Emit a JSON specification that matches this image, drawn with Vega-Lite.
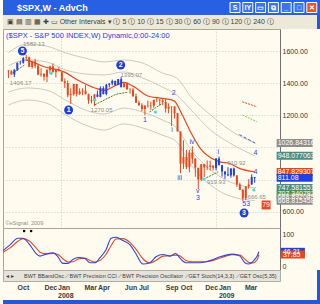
{
"$schema": "https://vega.github.io/schema/vega-lite/v6.json",
"padding": 0,
"background": "#fffcef",
"spacing": 0,
"bounds": "flush",
"resolve": {"scale": {"color": "independent", "strokeDash": "independent"}},
"config": {
  "view": {"stroke": null},
  "axis": {"labelFont": "Liberation Sans", "labelFontSize": 7, "labelColor": "#333333", "domainColor": "#707070", "ticks": false, "title": null, "grid": false, "labelPadding": 2},
  "title": {"font": "Liberation Sans"},
  "text": {"font": "Liberation Sans"}
},
"datasets": {
  "btn": [{"b":"a","g":"S","c":"n"},{"b":"b","g":"IY","c":"n"},{"b":"c","g":"▭","c":"n"},{"b":"d","g":"⧉","c":"n"},{"b":"e","g":"_","c":"n"},{"b":"f","g":"□","c":"n"},{"b":"g","g":"✕","c":"x"}],
  "bars": [
    {"date":"2007-08-31","o":1479,"h":1481,"l":1432,"c":1474,"t":"d"},
    {"date":"2007-09-07","o":1474,"h":1481,"l":1453,"c":1454,"t":"d"},
    {"date":"2007-09-14","o":1454,"h":1485,"l":1438,"c":1484,"t":"u"},
    {"date":"2007-09-21","o":1484,"h":1530,"l":1476,"c":1525,"t":"u"},
    {"date":"2007-09-28","o":1525,"h":1539,"l":1515,"c":1527,"t":"u"},
    {"date":"2007-10-05","o":1527,"h":1561,"l":1521,"c":1557,"t":"u"},
    {"date":"2007-10-12","o":1557,"h":1576,"l":1546,"c":1561,"t":"d"},
    {"date":"2007-10-19","o":1561,"h":1565,"l":1500,"c":1501,"t":"d"},
    {"date":"2007-10-26","o":1501,"h":1535,"l":1490,"c":1535,"t":"d"},
    {"date":"2007-11-02","o":1535,"h":1552,"l":1492,"c":1509,"t":"d"},
    {"date":"2007-11-09","o":1509,"h":1520,"l":1450,"c":1453,"t":"d"},
    {"date":"2007-11-16","o":1453,"h":1493,"l":1439,"c":1458,"t":"d"},
    {"date":"2007-11-23","o":1458,"h":1462,"l":1416,"c":1440,"t":"d"},
    {"date":"2007-11-30","o":1440,"h":1488,"l":1406,"c":1481,"t":"d"},
    {"date":"2007-12-07","o":1481,"h":1508,"l":1460,"c":1504,"t":"d"},
    {"date":"2007-12-14","o":1504,"h":1523,"l":1467,"c":1468,"t":"d"},
    {"date":"2007-12-21","o":1468,"h":1485,"l":1435,"c":1484,"t":"d"},
    {"date":"2007-12-28","o":1484,"h":1499,"l":1472,"c":1478,"t":"d"},
    {"date":"2008-01-04","o":1468,"h":1472,"l":1411,"c":1411,"t":"d"},
    {"date":"2008-01-11","o":1411,"h":1429,"l":1370,"c":1401,"t":"d"},
    {"date":"2008-01-18","o":1401,"h":1417,"l":1312,"c":1325,"t":"d"},
    {"date":"2008-01-25","o":1325,"h":1368,"l":1270,"c":1331,"t":"d"},
    {"date":"2008-02-01","o":1331,"h":1396,"l":1322,"c":1395,"t":"d"},
    {"date":"2008-02-08","o":1395,"h":1396,"l":1317,"c":1331,"t":"d"},
    {"date":"2008-02-15","o":1331,"h":1368,"l":1327,"c":1349,"t":"d"},
    {"date":"2008-02-22","o":1349,"h":1368,"l":1325,"c":1353,"t":"d"},
    {"date":"2008-02-29","o":1353,"h":1388,"l":1330,"c":1331,"t":"d"},
    {"date":"2008-03-07","o":1331,"h":1335,"l":1272,"c":1294,"t":"d"},
    {"date":"2008-03-14","o":1294,"h":1321,"l":1274,"c":1288,"t":"d"},
    {"date":"2008-03-21","o":1288,"h":1331,"l":1257,"c":1330,"t":"d"},
    {"date":"2008-03-28","o":1330,"h":1354,"l":1312,"c":1315,"t":"u"},
    {"date":"2008-04-04","o":1315,"h":1380,"l":1312,"c":1370,"t":"u"},
    {"date":"2008-04-11","o":1370,"h":1381,"l":1330,"c":1332,"t":"u"},
    {"date":"2008-04-18","o":1332,"h":1395,"l":1324,"c":1390,"t":"u"},
    {"date":"2008-04-25","o":1390,"h":1399,"l":1373,"c":1398,"t":"u"},
    {"date":"2008-05-02","o":1398,"h":1422,"l":1386,"c":1414,"t":"u"},
    {"date":"2008-05-09","o":1414,"h":1415,"l":1383,"c":1388,"t":"u"},
    {"date":"2008-05-16","o":1388,"h":1426,"l":1388,"c":1425,"t":"u"},
    {"date":"2008-05-23","o":1425,"h":1440,"l":1373,"c":1375,"t":"u"},
    {"date":"2008-05-30","o":1375,"h":1406,"l":1373,"c":1400,"t":"d"},
    {"date":"2008-06-06","o":1400,"h":1404,"l":1360,"c":1361,"t":"d"},
    {"date":"2008-06-13","o":1361,"h":1370,"l":1335,"c":1360,"t":"d"},
    {"date":"2008-06-20","o":1360,"h":1370,"l":1316,"c":1318,"t":"d"},
    {"date":"2008-06-27","o":1318,"h":1336,"l":1278,"c":1278,"t":"d"},
    {"date":"2008-07-04","o":1278,"h":1291,"l":1260,"c":1262,"t":"d"},
    {"date":"2008-07-11","o":1262,"h":1275,"l":1225,"c":1239,"t":"d"},
    {"date":"2008-07-18","o":1239,"h":1262,"l":1200,"c":1260,"t":"d"},
    {"date":"2008-07-25","o":1260,"h":1292,"l":1248,"c":1257,"t":"d"},
    {"date":"2008-08-01","o":1257,"h":1285,"l":1234,"c":1260,"t":"d"},
    {"date":"2008-08-08","o":1260,"h":1297,"l":1247,"c":1296,"t":"d"},
    {"date":"2008-08-15","o":1296,"h":1314,"l":1283,"c":1298,"t":"d"},
    {"date":"2008-08-22","o":1298,"h":1300,"l":1261,"c":1292,"t":"d"},
    {"date":"2008-08-29","o":1292,"h":1303,"l":1263,"c":1283,"t":"d"},
    {"date":"2008-09-05","o":1283,"h":1303,"l":1217,"c":1242,"t":"d"},
    {"date":"2008-09-12","o":1242,"h":1274,"l":1212,"c":1252,"t":"d"},
    {"date":"2008-09-19","o":1252,"h":1256,"l":1133,"c":1255,"t":"d"},
    {"date":"2008-09-26","o":1255,"h":1255,"l":1180,"c":1213,"t":"d"},
    {"date":"2008-10-03","o":1213,"h":1215,"l":1099,"c":1099,"t":"d"},
    {"date":"2008-10-10","o":1099,"h":1099,"l":840,"c":899,"t":"d"},
    {"date":"2008-10-17","o":899,"h":1044,"l":866,"c":940,"t":"d"},
    {"date":"2008-10-24","o":940,"h":985,"l":865,"c":877,"t":"d"},
    {"date":"2008-10-31","o":877,"h":985,"l":845,"c":968,"t":"d"},
    {"date":"2008-11-07","o":968,"h":1007,"l":899,"c":930,"t":"d"},
    {"date":"2008-11-14","o":930,"h":934,"l":818,"c":873,"t":"d"},
    {"date":"2008-11-21","o":873,"h":873,"l":741,"c":800,"t":"d"},
    {"date":"2008-11-28","o":800,"h":896,"l":790,"c":896,"t":"d"},
    {"date":"2008-12-05","o":896,"h":896,"l":815,"c":876,"t":"d"},
    {"date":"2008-12-12","o":876,"h":919,"l":860,"c":879,"t":"d"},
    {"date":"2008-12-19","o":879,"h":918,"l":857,"c":887,"t":"d"},
    {"date":"2008-12-26","o":887,"h":888,"l":857,"c":873,"t":"d"},
    {"date":"2009-01-02","o":873,"h":934,"l":857,"c":931,"t":"u"},
    {"date":"2009-01-09","o":931,"h":943,"l":888,"c":890,"t":"u"},
    {"date":"2009-01-16","o":890,"h":891,"l":818,"c":850,"t":"u"},
    {"date":"2009-01-23","o":850,"h":852,"l":804,"c":832,"t":"u"},
    {"date":"2009-01-30","o":832,"h":877,"l":821,"c":826,"t":"u"},
    {"date":"2009-02-06","o":826,"h":870,"l":812,"c":869,"t":"u"},
    {"date":"2009-02-13","o":869,"h":875,"l":818,"c":826,"t":"u"},
    {"date":"2009-02-20","o":826,"h":827,"l":754,"c":770,"t":"d"},
    {"date":"2009-02-27","o":770,"h":780,"l":735,"c":735,"t":"d"},
    {"date":"2009-03-06","o":735,"h":741,"l":667,"c":683,"t":"d"},
    {"date":"2009-03-13","o":683,"h":758,"l":672,"c":757,"t":"d"},
    {"date":"2009-03-20","o":757,"h":803,"l":743,"c":769,"t":"d"},
    {"date":"2009-03-27","o":769,"h":833,"l":768,"c":816,"t":"u"},
    {"date":"2009-04-03","o":816,"h":816,"l":780,"c":811,"t":"u"}
  ],
  "bands": [
    {"date":"2007-08-31","b":"u2","p":1590},{"date":"2007-10-14","b":"u2","p":1644},{"date":"2007-11-29","b":"u2","p":1631},{"date":"2008-01-13","b":"u2","p":1588},{"date":"2008-02-28","b":"u2","p":1556},{"date":"2008-04-13","b":"u2","p":1532},{"date":"2008-05-29","b":"u2","p":1544},{"date":"2008-07-13","b":"u2","p":1525},{"date":"2008-08-28","b":"u2","p":1463},{"date":"2008-10-01","b":"u2","p":1432},{"date":"2008-11-04","b":"u2","p":1314},{"date":"2008-12-20","b":"u2","p":1202},{"date":"2009-02-03","b":"u2","p":1109},{"date":"2009-04-03","b":"u2","p":1027},
    {"date":"2007-08-31","b":"u1","p":1510},{"date":"2007-10-14","b":"u1","p":1544},{"date":"2007-11-29","b":"u1","p":1532},{"date":"2008-01-13","b":"u1","p":1482},{"date":"2008-02-28","b":"u1","p":1457},{"date":"2008-04-13","b":"u1","p":1451},{"date":"2008-05-29","b":"u1","p":1470},{"date":"2008-07-13","b":"u1","p":1432},{"date":"2008-08-28","b":"u1","p":1376},{"date":"2008-10-01","b":"u1","p":1326},{"date":"2008-11-04","b":"u1","p":1233},{"date":"2008-12-20","b":"u1","p":1108},{"date":"2009-02-03","b":"u1","p":1028},{"date":"2009-04-03","b":"u1","p":948},
    {"date":"2007-08-31","b":"l1","p":1345},{"date":"2007-10-14","b":"l1","p":1370},{"date":"2007-11-29","b":"l1","p":1357},{"date":"2008-01-13","b":"l1","p":1295},{"date":"2008-02-28","b":"l1","p":1233},{"date":"2008-04-13","b":"l1","p":1208},{"date":"2008-05-29","b":"l1","p":1245},{"date":"2008-07-13","b":"l1","p":1220},{"date":"2008-08-28","b":"l1","p":1171},{"date":"2008-10-01","b":"l1","p":1121},{"date":"2008-11-04","b":"l1","p":984},{"date":"2008-12-20","b":"l1","p":860},{"date":"2009-02-03","b":"l1","p":786},{"date":"2009-04-03","b":"l1","p":748},
    {"date":"2007-08-31","b":"l2","p":1264},{"date":"2007-10-14","b":"l2","p":1295},{"date":"2007-11-29","b":"l2","p":1276},{"date":"2008-01-13","b":"l2","p":1202},{"date":"2008-02-28","b":"l2","p":1140},{"date":"2008-04-13","b":"l2","p":1108},{"date":"2008-05-29","b":"l2","p":1146},{"date":"2008-07-13","b":"l2","p":1121},{"date":"2008-08-28","b":"l2","p":1077},{"date":"2008-10-01","b":"l2","p":1034},{"date":"2008-11-04","b":"l2","p":891},{"date":"2008-12-20","b":"l2","p":766},{"date":"2009-02-03","b":"l2","p":698},{"date":"2009-04-03","b":"l2","p":669}
  ],
  "ma": [
    {"date":"2007-10-10","p":1545},{"date":"2007-10-19","p":1540},{"date":"2007-11-20","p":1505},{"date":"2008-01-09","p":1470},{"date":"2008-02-17","p":1410},{"date":"2008-03-22","p":1370},{"date":"2008-04-13","p":1355},{"date":"2008-05-10","p":1385},{"date":"2008-05-29","p":1405},{"date":"2008-06-21","p":1380},{"date":"2008-07-25","p":1320},{"date":"2008-08-28","p":1305},{"date":"2008-09-25","p":1290},{"date":"2008-10-12","p":1214},{"date":"2008-11-04","p":1090},{"date":"2008-11-27","p":990},{"date":"2008-12-20","p":935},{"date":"2009-01-11","p":910},{"date":"2009-02-03","p":900},{"date":"2009-02-26","p":870},{"date":"2009-04-03","p":848}
  ],
  "seg": [
    {"s":"s1","k":"g","date":"2007-09-10","p":1463},{"s":"s1","k":"g","date":"2007-10-08","p":1513},
    {"s":"s2","k":"g","date":"2008-03-22","p":1265},{"s":"s2","k":"g","date":"2008-04-13","p":1295},{"s":"s2","k":"g","date":"2008-05-10","p":1330},{"s":"s2","k":"g","date":"2008-06-09","p":1345},
    {"s":"s3","k":"g","date":"2008-07-29","p":1220},{"s":"s3","k":"g","date":"2008-08-28","p":1275},
    {"s":"s4","k":"g","date":"2008-12-04","p":803},{"s":"s4","k":"g","date":"2009-01-07","p":848},
    {"s":"s5","k":"lg","date":"2009-03-05","p":1202},{"s":"s5","k":"lg","date":"2009-04-08","p":1160},
    {"s":"s6","k":"r","date":"2009-03-05","p":1284},{"s":"s6","k":"r","date":"2009-04-08","p":1253},
    {"s":"s7","k":"b","date":"2009-02-26","p":1080},{"s":"s7","k":"b","date":"2009-04-05","p":1026},
    {"s":"s8","k":"g","date":"2009-03-30","p":735},{"s":"s8","k":"g","date":"2009-04-05","p":752}
  ],
  "cy": [{"date":"2007-12-10","p":1461},{"date":"2008-03-22","p":1295},{"date":"2008-08-12","p":1220},{"date":"2008-12-04","p":803},{"date":"2009-04-01","p":735}],
  "wl": [
    {"date":"2008-07-18","p":1171,"t":"1"},{"date":"2008-09-24","p":1339,"t":"2"},{"date":"2008-09-20","p":1108,"t":"i"},{"date":"2008-10-08","p":810,"t":"iii"},{"date":"2008-11-06","p":1034,"t":"iv"},{"date":"2008-11-20","p":729,"t":"v"},{"date":"2008-11-20","p":685,"t":"3"},{"date":"2009-01-07","p":972,"t":"i"},{"date":"2009-03-14","p":648,"t":"53"},{"date":"2009-04-05","p":965,"t":"4"},{"date":"2009-04-05","p":847,"t":"4"}
  ],
  "gl": [
    {"date":"2007-10-30","p":1644,"t":"1582.13"},{"date":"2007-09-29","p":1401,"t":"1406.17"},{"date":"2008-06-16","p":1451,"t":"1395.07"},{"date":"2008-04-07","p":1233,"t":"1270.05"},{"date":"2009-02-19","p":903,"t":"910.92"},{"date":"2009-01-02","p":785,"t":"919.93"},{"date":"2009-04-08","p":691,"t":"666.65"}
  ],
  "cn": [{"date":"2007-10-03","p":1600,"t":"5"},{"date":"2008-01-20","p":1233,"t":"1"},{"date":"2008-05-22","p":1513,"t":"2"},{"date":"2009-03-09","p":592,"t":"3"}],
  "box79": [{"date":"2009-04-30","p":642,"t":"79"}],
  "rl": [
    {"date":"2009-04-03","p":1026.84316,"t":"1026.84316","c":"grey"},{"date":"2009-04-03","p":948.077063,"t":"948.077063","c":"teal"},{"date":"2009-04-03","p":847.829307,"t":"847.829307","c":"red"},{"date":"2009-04-03","p":747.581551,"t":"747.581551","c":"teal"},{"date":"2009-04-03","p":707.3,"t":"707.340782","c":"green"},{"date":"2009-04-03","p":690.5,"t":"688.892049","c":"grey"},{"date":"2009-04-03","p":668.815458,"t":"668.815458","c":"grey"},{"date":"2009-04-03","p":811.08,"t":"811.08","c":"blue"}
  ],
  "osc": [
    {"date":"2007-08-30","k":49.5,"d":45},{"date":"2007-09-15","k":67,"d":58},{"date":"2007-10-03","k":87,"d":78},{"date":"2007-10-14","k":87,"d":86},{"date":"2007-10-30","k":67,"d":78},{"date":"2007-11-13","k":41,"d":58},{"date":"2007-11-22","k":33,"d":45},{"date":"2007-12-06","k":39,"d":40},{"date":"2007-12-22","k":43,"d":41},{"date":"2008-01-02","k":31,"d":38},{"date":"2008-01-13","k":11,"d":25},{"date":"2008-01-25","k":11,"d":15},{"date":"2008-02-05","k":23,"d":16},{"date":"2008-02-17","k":29,"d":24},{"date":"2008-03-03","k":26,"d":27},{"date":"2008-03-15","k":13,"d":20},{"date":"2008-03-26","k":13,"d":15},{"date":"2008-04-07","k":29,"d":20},{"date":"2008-04-20","k":51.5,"d":38},{"date":"2008-05-02","k":87,"d":65},{"date":"2008-05-13","k":90,"d":85},{"date":"2008-05-29","k":80,"d":86},{"date":"2008-06-14","k":67,"d":74},{"date":"2008-06-27","k":41,"d":55},{"date":"2008-07-13","k":9,"d":25},{"date":"2008-07-29","k":13,"d":12},{"date":"2008-08-12","k":31,"d":20},{"date":"2008-08-28","k":38,"d":33},{"date":"2008-09-13","k":33,"d":34},{"date":"2008-09-26","k":41,"d":36},{"date":"2008-10-06","k":26,"d":33},{"date":"2008-10-19","k":13,"d":20},{"date":"2008-11-04","k":13,"d":16},{"date":"2008-11-20","k":13,"d":16},{"date":"2008-12-04","k":16,"d":16},{"date":"2008-12-20","k":23,"d":20},{"date":"2009-01-05","k":31,"d":27},{"date":"2009-01-18","k":36,"d":33},{"date":"2009-02-03","k":39,"d":37},{"date":"2009-02-19","k":33,"d":36},{"date":"2009-03-02","k":13,"d":24},{"date":"2009-03-11","k":9,"d":14},{"date":"2009-03-20","k":16,"d":12},{"date":"2009-03-30","k":33,"d":22},{"date":"2009-04-03","k":46,"d":37.85}
  ],
  "lev": [{"v":75},{"v":25}],
  "od": [{"date":"2007-10-17","v":109},{"date":"2007-11-02","v":109}],
  "ol": [{"date":"2009-04-03","v":46,"t":"46.21","c":"blue"},{"date":"2009-04-03","v":37.85,"t":"37.85","c":"red"}],
  "one": [{"x":"0"}]
},
"vconcat": [
  {"width": 320, "height": 15, "view": {"fill": "#2760e2", "stroke": null},
   "layer": [
     {"data": {"values": [{"t": "$SPX,W - AdvCh"}]},
      "mark": {"type": "text", "align": "left", "dx": 14, "fontSize": 9, "fontWeight": "bold", "color": "#ffffff"},
      "encoding": {"x": {"field": "t", "type": "nominal", "scale": {"padding": 0, "align": 0}, "axis": null}, "text": {"field": "t"}}},
     {"data": {"name": "btn"},
      "mark": {"type": "point", "shape": "square", "size": 100, "filled": true, "stroke": "#ffffff", "strokeWidth": 1, "opacity": 1},
      "encoding": {"x": {"field": "b", "type": "nominal", "scale": {"domain": ["_0","_1","_2","_3","_4","_5","_6","_7","_8","_9","_10","_11","_12","_13","_14","_15","_16","a","b","c","d","e","f","g"], "padding": 1, "align": 0.5625}, "axis": null},
        "color": {"field": "c", "type": "nominal", "scale": {"domain": ["n", "x"], "range": ["#3a74ee", "#e0582c"]}, "legend": null}}},
     {"data": {"name": "btn"},
      "mark": {"type": "text", "color": "#ffffff", "fontSize": 7, "fontWeight": "bold"},
      "encoding": {"x": {"field": "b", "type": "nominal", "scale": {"domain": ["_0","_1","_2","_3","_4","_5","_6","_7","_8","_9","_10","_11","_12","_13","_14","_15","_16","a","b","c","d","e","f","g"], "padding": 1, "align": 0.5625}, "axis": null}, "text": {"field": "g"}}}
   ],
   "resolve": {"scale": {"x": "independent"}}},
  {"width": 314, "height": 14, "view": {"fill": "#ece9d8", "stroke": null},
   "layer": [
     {"data": {"values": [{"t": "▣  ▤  ▥  ▦   ✚   ▭       Other Intervals ▾   Ⓘ 5   Ⓘ 10   Ⓘ 15   Ⓘ 30   Ⓘ 60   Ⓘ 90   Ⓘ 120   Ⓘ 240   Ⓘ"}]},
      "mark": {"type": "text", "align": "left", "dx": 4, "fontSize": 7, "color": "#404040"},
      "encoding": {"x": {"field": "t", "type": "nominal", "scale": {"padding": 0, "align": 0}, "axis": null}, "text": {"field": "t"}}},
     {"data": {"name": "one"}, "mark": {"type": "rect", "x2Offset": 6, "color": "#2458d8", "clip": false},
      "encoding": {"x": {"datum": 1, "type": "quantitative", "scale": {"domain": [0, 1]}, "axis": null}, "x2": {"datum": 1}}}
   ],
   "resolve": {"scale": {"x": "independent"}}},
  {"width": 277, "height": 199, "view": {"fill": "#fffcef", "stroke": "#a8a898"},
   "title": {"text": "($SPX - S&P 500 INDEX,W) Dynamic,0:00-24:00", "anchor": "start", "frame": "group", "offset": -10, "dx": 3, "fontSize": 7.5, "fontWeight": "normal", "color": "#2a3ad8"},
   "encoding": {
     "x": {"field": "date", "type": "temporal",
           "scale": {"type": "utc", "domain": [{"year": 2007, "month": 8, "date": 30, "utc": true}, {"year": 2009, "month": 5, "date": 21, "utc": true}]},
           "axis": {"orient": "bottom", "values": [{"year": 2008, "month": 1, "date": 1, "utc": true}, {"year": 2009, "month": 1, "date": 1, "utc": true}], "grid": true, "gridColor": "#c8c8c8", "gridDash": [1, 2], "labels": false, "domain": false, "title": "©eSignal, 2009", "titleAnchor": "start", "titleAlign": "left", "titleX": 2, "titlePadding": -8, "titleFontSize": 5.5, "titleColor": "#8a8a8a", "titleFontWeight": "normal", "titleFont": "Liberation Sans"}},
     "y": {"field": "p", "type": "quantitative", "scale": {"domain": [498.6, 1737], "nice": false, "zero": false},
           "axis": {"orient": "right", "values": [600, 800, 1000, 1200, 1400, 1600], "labelExpr": "datum.value == 800 || datum.value == 1000 ? '' : format(datum.value, '.2f')", "labelOverlap": false, "grid": true, "gridColor": "#c8c8c8", "gridDash": [1, 2]}}
   },
   "layer": [
     {"data": {"name": "bands"}, "mark": {"type": "line", "color": "#bdbdb4", "strokeWidth": 0.8, "interpolate": "monotone", "clip": true}, "encoding": {"detail": {"field": "b"}}},
     {"data": {"name": "ma"}, "mark": {"type": "line", "color": "#e8461c", "strokeWidth": 1.2, "interpolate": "monotone", "clip": true}},
     {"data": {"name": "seg"}, "mark": {"type": "line", "strokeWidth": 1, "clip": true},
      "encoding": {"detail": {"field": "s"},
        "color": {"field": "k", "type": "nominal", "scale": {"domain": ["u","d","g","lg","r","b","grey","teal","red","green","blue"], "range": ["#2340e0","#e8461c","#3f7f2a","#66dd33","#e8461c","#3f5fe0","#8e8e8e","#4a8c84","#e8441e","#3a9c38","#2040e0"]}, "legend": null},
        "strokeDash": {"field": "k", "type": "nominal", "scale": {"domain": ["g", "lg", "r", "b"], "range": [[2, 1], [2, 1], [2, 1], [3, 2]]}, "legend": null}}},
     {"data": {"name": "bars"}, "mark": {"type": "rule", "strokeWidth": 1},
      "encoding": {"y": {"field": "l", "type": "quantitative", "scale": {"domain": [498.6, 1737], "nice": false, "zero": false},
           "axis": {"orient": "right", "values": [600, 800, 1000, 1200, 1400, 1600], "labelExpr": "datum.value == 800 || datum.value == 1000 ? '' : format(datum.value, '.2f')", "labelOverlap": false, "grid": true, "gridColor": "#c8c8c8", "gridDash": [1, 2]}},
        "y2": {"field": "h"},
        "color": {"field": "t", "type": "nominal", "scale": {"domain": ["u","d","g","lg","r","b","grey","teal","red","green","blue"], "range": ["#2340e0","#e8461c","#3f7f2a","#66dd33","#e8461c","#3f5fe0","#8e8e8e","#4a8c84","#e8441e","#3a9c38","#2040e0"]}, "legend": null}}},
     {"data": {"name": "bars"}, "mark": {"type": "bar", "width": 2},
      "encoding": {"y": {"field": "o", "type": "quantitative", "scale": {"domain": [498.6, 1737], "nice": false, "zero": false},
           "axis": {"orient": "right", "values": [600, 800, 1000, 1200, 1400, 1600], "labelExpr": "datum.value == 800 || datum.value == 1000 ? '' : format(datum.value, '.2f')", "labelOverlap": false, "grid": true, "gridColor": "#c8c8c8", "gridDash": [1, 2]}},
        "y2": {"field": "c"},
        "color": {"field": "t", "type": "nominal", "scale": {"domain": ["u","d","g","lg","r","b","grey","teal","red","green","blue"], "range": ["#2340e0","#e8461c","#3f7f2a","#66dd33","#e8461c","#3f5fe0","#8e8e8e","#4a8c84","#e8441e","#3a9c38","#2040e0"]}, "legend": null}}},
     {"data": {"name": "cy"}, "mark": {"type": "point", "filled": true, "size": 10, "color": "#40e0e0", "opacity": 1}},
     {"data": {"name": "gl"}, "mark": {"type": "text", "fontSize": 6, "color": "#8c8c8c"}, "encoding": {"text": {"field": "t"}}},
     {"data": {"name": "wl"}, "mark": {"type": "text", "fontSize": 7, "color": "#2a44e0"}, "encoding": {"text": {"field": "t"}}},
     {"data": {"name": "cn"}, "mark": {"type": "point", "filled": true, "size": 80, "color": "#1f3ed6", "opacity": 1}},
     {"data": {"name": "cn"}, "mark": {"type": "text", "fontSize": 7, "fontWeight": "bold", "color": "#ffffff"}, "encoding": {"text": {"field": "t"}}},
     {"data": {"name": "box79"}, "mark": {"type": "point", "shape": "square", "filled": true, "size": 80, "color": "#e8461c", "opacity": 1}},
     {"data": {"name": "box79"}, "mark": {"type": "text", "fontSize": 7, "color": "#ffffff"}, "encoding": {"text": {"field": "t"}}},
     {"data": {"name": "rl"}, "mark": {"type": "rect", "xOffset": 22, "x2Offset": 58, "yOffset": -4, "y2Offset": 4, "clip": false},
      "encoding": {"x2": {"field": "date"}, "y2": {"field": "p"},
        "color": {"field": "c", "type": "nominal", "scale": {"domain": ["u","d","g","lg","r","b","grey","teal","red","green","blue"], "range": ["#2340e0","#e8461c","#3f7f2a","#66dd33","#e8461c","#3f5fe0","#8e8e8e","#4a8c84","#e8441e","#3a9c38","#2040e0"]}, "legend": null}}},
     {"data": {"name": "rl"}, "mark": {"type": "text", "align": "left", "dx": 23, "fontSize": 7, "color": "#ffffff", "clip": false},
      "encoding": {"text": {"field": "t"}}},
     {"data": {"name": "one"}, "mark": {"type": "rect", "xOffset": 37, "x2Offset": 43, "color": "#2458d8", "clip": false},
      "encoding": {"x": {"datum": {"year": 2009, "month": 5, "date": 21, "utc": true}, "type": "temporal"}, "x2": {"datum": {"year": 2009, "month": 5, "date": 21, "utc": true}},
        "y": {"datum": 1737, "type": "quantitative"}, "y2": {"datum": 498.6}}}
   ]},
  {"width": 277, "height": 42, "view": {"fill": "#fffcef", "stroke": "#a8a898"},
   "encoding": {"x": {"field": "date", "type": "temporal", "scale": {"type": "utc", "domain": [{"year": 2007, "month": 8, "date": 30, "utc": true}, {"year": 2009, "month": 5, "date": 21, "utc": true}]}, "axis": null},
     "y": {"field": "v", "type": "quantitative", "scale": {"domain": [-9.1, 118.2], "nice": false, "zero": false}, "axis": {"orient": "right", "values": [0, 100], "format": "d", "labelOverlap": false}}},
   "layer": [
     {"data": {"name": "lev"}, "mark": {"type": "rule", "color": "#aaaaaa", "strokeWidth": 1},
      "encoding": {"x": {"datum": {"year": 2007, "month": 8, "date": 30, "utc": true}, "type": "temporal"}, "x2": {"datum": {"year": 2009, "month": 5, "date": 21, "utc": true}}}},
     {"data": {"name": "osc"}, "mark": {"type": "line", "color": "#e8461c", "strokeWidth": 1.1, "interpolate": "monotone"},
      "encoding": {"y": {"field": "d", "type": "quantitative", "scale": {"domain": [-9.1, 118.2], "nice": false, "zero": false}, "axis": {"orient": "right", "values": [0, 100], "format": "d", "labelOverlap": false}}}},
     {"data": {"name": "osc"}, "mark": {"type": "line", "color": "#2a44e6", "strokeWidth": 1.1, "interpolate": "monotone"},
      "encoding": {"y": {"field": "k", "type": "quantitative", "scale": {"domain": [-9.1, 118.2], "nice": false, "zero": false}, "axis": {"orient": "right", "values": [0, 100], "format": "d", "labelOverlap": false}}}},
     {"data": {"name": "od"}, "mark": {"type": "point", "shape": "square", "filled": true, "size": 5, "color": "#000000", "opacity": 1}},
     {"data": {"name": "ol"}, "mark": {"type": "rect", "xOffset": 22, "x2Offset": 46, "yOffset": -4, "y2Offset": 4, "clip": false},
      "encoding": {"x2": {"field": "date"}, "y2": {"field": "v"},
        "color": {"field": "c", "type": "nominal", "scale": {"domain": ["blue", "red"], "range": ["#2040e0", "#e8441e"]}, "legend": null}}},
     {"data": {"name": "ol"}, "mark": {"type": "text", "align": "left", "dx": 24, "fontSize": 7, "color": "#ffffff", "clip": false},
      "encoding": {"text": {"field": "t"}}},
     {"data": {"name": "one"}, "mark": {"type": "rect", "xOffset": 37, "x2Offset": 43, "color": "#2458d8", "clip": false},
      "encoding": {"x": {"datum": {"year": 2009, "month": 5, "date": 21, "utc": true}, "type": "temporal"}, "x2": {"datum": {"year": 2009, "month": 5, "date": 21, "utc": true}},
        "y": {"datum": 118.2, "type": "quantitative"}, "y2": {"datum": -9.1}}}
   ]},
  {"width": 277, "height": 11, "view": {"fill": "#e6e4da", "stroke": "#b0b0a8"},
   "layer": [
     {"data": {"values": [{"t": "◂ ▸"}]},
      "mark": {"type": "text", "align": "left", "dx": 3, "fontSize": 6, "color": "#404040"},
      "encoding": {"x": {"field": "t", "type": "nominal", "scale": {"padding": 0, "align": 0}, "axis": null}, "text": {"field": "t"}}},
     {"data": {"values": [{"t": "BWT BBandOsc ⟋BWT Precision CCI ⟋BWT Precision Oscillator ⟋GET Stoch(14,3,3) ⟋GET Osc(5,35)"}]},
      "mark": {"type": "text", "align": "left", "dx": 21, "fontSize": 5.5, "color": "#404040"},
      "encoding": {"x": {"field": "t", "type": "nominal", "scale": {"padding": 0, "align": 0}, "axis": null}, "text": {"field": "t"}}},
     {"data": {"name": "one"}, "mark": {"type": "rect", "xOffset": 37, "x2Offset": 43, "color": "#2458d8", "clip": false},
      "encoding": {"x": {"datum": 1, "type": "quantitative", "scale": {"domain": [0, 1]}, "axis": null}, "x2": {"datum": 1}}}
   ],
   "resolve": {"scale": {"x": "independent"}}},
  {"width": 277, "height": 19,
   "data": {"name": "one"}, "mark": {"type": "rect", "xOffset": 37, "x2Offset": 43, "color": "#2458d8", "clip": false},
   "encoding": {
     "x": {"datum": {"year": 2009, "month": 5, "date": 21, "utc": true}, "type": "temporal",
       "scale": {"type": "utc", "domain": [{"year": 2007, "month": 8, "date": 30, "utc": true}, {"year": 2009, "month": 5, "date": 21, "utc": true}]},
       "axis": {"orient": "bottom", "offset": -19, "domain": false, "labelAlign": "left", "labelFontWeight": "bold", "labelColor": "#3a3a3a", "labelPadding": 2, "labelLineHeight": 8, "labelOverlap": false, "labelFlush": false,
         "values": [{"year": 2007, "month": 10, "date": 1, "utc": true}, {"year": 2007, "month": 12, "date": 1, "utc": true}, {"year": 2008, "month": 1, "date": 1, "utc": true}, {"year": 2008, "month": 3, "date": 1, "utc": true}, {"year": 2008, "month": 4, "date": 1, "utc": true}, {"year": 2008, "month": 6, "date": 1, "utc": true}, {"year": 2008, "month": 7, "date": 3, "utc": true}, {"year": 2008, "month": 9, "date": 2, "utc": true}, {"year": 2008, "month": 10, "date": 6, "utc": true}, {"year": 2008, "month": 12, "date": 1, "utc": true}, {"year": 2009, "month": 1, "date": 1, "utc": true}, {"year": 2009, "month": 3, "date": 1, "utc": true}],
         "labelExpr": "utcmonth(datum.value) == 0 ? [utcFormat(datum.value, '%b'), utcFormat(datum.value, '%Y')] : utcFormat(datum.value, '%b')"}},
     "x2": {"datum": {"year": 2009, "month": 5, "date": 21, "utc": true}}}},
  {"width": 320, "height": 4, "view": {"fill": "#2458d8", "stroke": null}, "data": {"values": [{}]}, "mark": {"type": "text", "text": ""}}
]
}
